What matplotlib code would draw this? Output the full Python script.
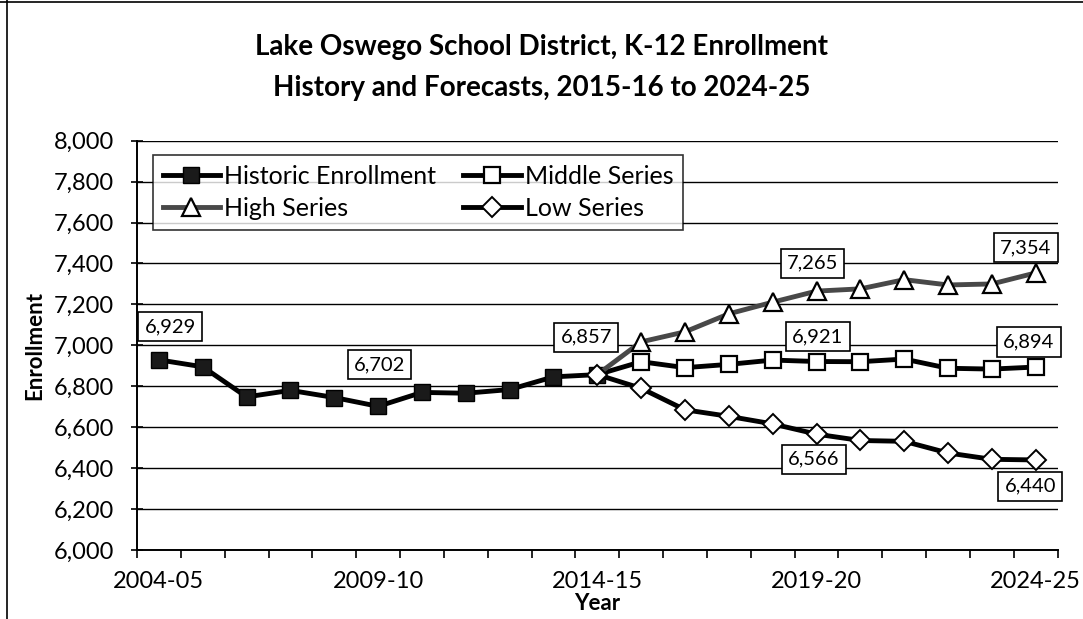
import matplotlib
matplotlib.use("Agg")
import matplotlib.pyplot as plt
from matplotlib.lines import Line2D
import numpy as np

plt.rcParams["font.family"] = ["Lato", "DejaVu Sans"]

years = ["2004-05", "2005-06", "2006-07", "2007-08", "2008-09", "2009-10",
         "2010-11", "2011-12", "2012-13", "2013-14", "2014-15", "2015-16",
         "2016-17", "2017-18", "2018-19", "2019-20", "2020-21", "2021-22",
         "2022-23", "2023-24", "2024-25"]

# historic 2004-05 .. 2014-15
historic = [6929, 6895, 6748, 6780, 6745, 6702, 6770, 6766, 6784, 6846, 6857]
# forecasts 2014-15 .. 2024-25 (start at last historic year)
middle = [6857, 6920, 6891, 6907, 6928, 6921, 6920, 6933, 6888, 6884, 6894]
high = [6857, 7017, 7066, 7154, 7211, 7265, 7276, 7321, 7295, 7300, 7354]
low = [6857, 6790, 6685, 6653, 6616, 6566, 6535, 6531, 6474, 6443, 6440]

# which points get a value box: (index into series, offset in points)
hist_labels = [(0, (8, 24)), (5, (1, 30)), (10, (-8, 27))]
high_labels = [(5, (-3, 20)), (10, (-7, 18))]
mid_labels = [(5, (1, 18)), (10, (-5, 18))]
low_labels = [(5, (-2, -18)), (10, (-4, -19))]

x_hist = np.arange(len(historic))
x_fore = np.arange(len(years) - len(middle), len(years))

fig = plt.figure(figsize=(10.83, 6.19), dpi=100)
ax = fig.add_axes([0.1265, 0.1115, 0.8501, 0.6612])

ax.plot(x_hist, historic, color="black", lw=3.5, marker="s", ms=12,
        mfc="#1a1a1a", mec="black", label="Historic Enrollment", zorder=3)
ax.plot(x_fore, middle, color="black", lw=3.5, marker="s", ms=12,
        mfc="white", mec="black", mew=1.6, markevery=slice(1, None),
        label="Middle Series", zorder=4)
ax.plot(x_fore, high, color="#484848", lw=3.5, marker="^", ms=13,
        mfc="white", mec="black", mew=1.6, markevery=slice(1, None),
        label="High Series", zorder=4)
ax.plot(x_fore, low, color="black", lw=3.5, marker="D", ms=10,
        mfc="white", mec="black", mew=1.4, label="Low Series", zorder=5)

box = dict(boxstyle="square,pad=0.3", fc="white", ec="black", lw=1.2)


def add_boxes(xs, vals, picks):
    for i, off in picks:
        ax.annotate(f"{vals[i]:,}", (xs[i], vals[i]), xytext=off,
                    textcoords="offset points", ha="center", va="center",
                    fontsize=14.5, bbox=box, zorder=6)


add_boxes(x_hist, historic, hist_labels)
add_boxes(x_fore, high, high_labels)
add_boxes(x_fore, middle, mid_labels)
add_boxes(x_fore, low, low_labels)

ax.set_ylim(6000, 8000)
ax.set_xlim(-0.5, len(years) - 0.5)
ax.set_yticks(np.arange(6000, 8001, 200))
ax.set_yticklabels([f"{v:,}" for v in range(6000, 8001, 200)], fontsize=17)
ax.yaxis.grid(True, color="black", lw=1.0)
ax.set_axisbelow(True)

ax.set_xticks(np.arange(-0.5, len(years), 1.0))
ax.set_xticklabels([])
ax.set_xticks(np.arange(0, len(years), 5), minor=True)
ax.set_xticklabels([years[i] for i in range(0, len(years), 5)], minor=True, fontsize=17)
ax.tick_params(axis="x", which="major", direction="out", length=6, width=1.2)
ax.tick_params(axis="x", which="minor", length=0, pad=15)
ax.tick_params(axis="y", direction="inout", length=9, width=1.2, pad=12)

for s in ["top", "right"]:
    ax.spines[s].set_visible(False)
ax.spines["left"].set_linewidth(1.4)
ax.spines["bottom"].set_linewidth(1.4)

ax.set_ylabel("Enrollment", fontsize=16, fontweight="bold", labelpad=6)
ax.set_xlabel("Year", fontsize=16, fontweight="bold", labelpad=1)

handles, labels = ax.get_legend_handles_labels()
order = [0, 2, 1, 3]
leg = ax.legend([handles[i] for i in order], [labels[i] for i in order],
                ncol=2, loc="upper left", bbox_to_anchor=(0.017, 0.965),
                borderaxespad=0, fontsize=18, frameon=True, fancybox=False,
                edgecolor="black", handlelength=2.3, handletextpad=0.15,
                columnspacing=1.1, labelspacing=0.35, borderpad=0.4)
leg.get_frame().set_linewidth(1.2)
leg.set_zorder(7)

fig.text(0.5, 0.924, "Lake Oswego School District, K-12 Enrollment",
         ha="center", va="center", fontsize=20, fontweight="bold")
fig.text(0.5, 0.858, "History and Forecasts, 2015-16 to 2024-25",
         ha="center", va="center", fontsize=20, fontweight="bold")

# chart frame from the scanned page
fig.add_artist(Line2D([7 / 1083, 7 / 1083], [0, 1], color="black", lw=1.2))
fig.add_artist(Line2D([0, 1], [1 - 2 / 619, 1 - 2 / 619], color="black", lw=1.2))

fig.savefig("out.png", dpi=100, facecolor="white")
